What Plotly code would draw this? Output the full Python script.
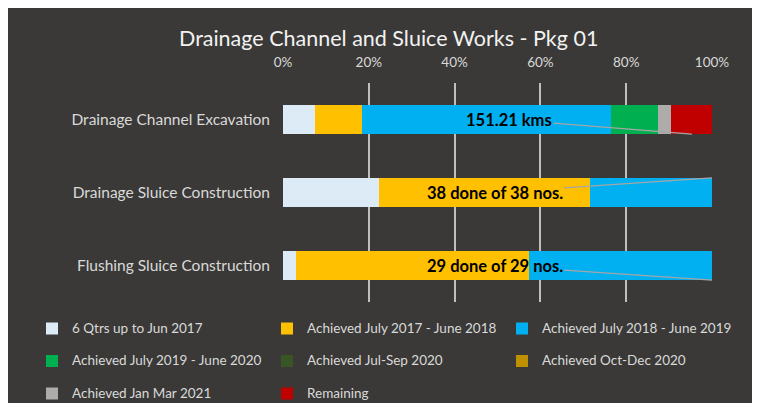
import plotly.graph_objects as go

# ---------------- data ----------------
categories = ["Drainage Channel Excavation", "Drainage Sluice Construction", "Flushing Sluice Construction"]

series_names = [
    "6 Qtrs up to Jun 2017",
    "Achieved July 2017 - June 2018",
    "Achieved July 2018 - June 2019",
    "Achieved July 2019 - June 2020",
    "Achieved Jul-Sep 2020",
    "Achieved Oct-Dec 2020",
    "Achieved Jan Mar 2021",
    "Remaining",
]
qtrs_upto_jun2017 = [7.4, 22.4, 3.1]
jul2017_jun2018 = [10.9, 49.2, 54.2]
jul2018_jun2019 = [58.2, 28.4, 42.7]
jul2019_jun2020 = [10.8, 0.0, 0.0]
jul_sep_2020 = [0.0, 0.0, 0.0]
oct_dec_2020 = [0.0, 0.0, 0.0]
jan_mar_2021 = [3.1, 0.0, 0.0]
remaining = [9.6, 0.0, 0.0]
series_values = [qtrs_upto_jun2017, jul2017_jun2018, jul2018_jun2019, jul2019_jun2020,
                 jul_sep_2020, oct_dec_2020, jan_mar_2021, remaining]

tick_values = [0, 20, 40, 60, 80, 100]
tick_labels = ["0%", "20%", "40%", "60%", "80%", "100%"]

bar_labels = ["151.21 kms", "38 done of 38 nos.", "29 done of 29 nos."]
label_pos = [52.7, 49.3, 49.3]          # label centre along the axis (%)
leader_end_x = [95.3, 100.0, 100.0]     # where each callout line points (%)
leader_end_dy = [0.2, -0.2, 0.2]        # bar edge offset (category units)

# ---------------- style ----------------
colors = ["#DDEBF7", "#FFC000", "#00B0F0", "#00B050", "#375623", "#BF9000", "#AEACAA", "#C00000"]
BG = "#3a3937"
TXT = "#d9d9d9"
FONT = "Lato, Open Sans, sans-serif"

OFF = 8                       # the page's default body margin
W, H = 760 - OFF, 403 - OFF   # figure fills the window after the offset
ML, MR, MT, MB = 275, 48, 75, 101
PW, PH = W - ML - MR, H - MT - MB

def px_x(p):  # page pixel -> paper x
    return (p - OFF - ML) / PW

def px_y(p):  # page pixel -> paper y
    return (H - MB - (p - OFF)) / PH

fig = go.Figure()
for name, vals, col in zip(series_names, series_values, colors):
    fig.add_trace(go.Bar(
        y=categories, x=vals,
        # legend text shown at 13.5px; the smaller legend font only sets the row spacing
        name='<span style="font-size:13.5px">' + name + "</span><br> ",
        orientation="h", marker=dict(color=col, line=dict(width=0)),
        hovertemplate=name + ": %{x}%<extra></extra>",
    ))

annotations = []
for i, (txt, lx, ex, dy) in enumerate(zip(bar_labels, label_pos, leader_end_x, leader_end_dy)):
    annotations.append(dict(
        x=ex, y=i + dy, xref="x", yref="y",
        ax=lx, ay=i, axref="x", ayref="y",
        text="<b>" + txt + "</b>", showarrow=True, arrowhead=0,
        arrowcolor="#a6a6a6", arrowwidth=1.2,
        font=dict(family=FONT, size=16.5, color="#000000"),
    ))

annotations.append(dict(
    text="Drainage Channel and Sluice Works - Pkg 01",
    x=px_x(388), y=px_y(38), xref="paper", yref="paper", showarrow=False,
    font=dict(family=FONT, size=21.5, color="#f2f2f2"),
    xanchor="center", yanchor="middle",
))

fig.update_layout(
    width=W, height=H,
    margin=dict(l=ML, r=MR, t=MT, b=MB, pad=0, autoexpand=False),
    paper_bgcolor=BG, plot_bgcolor=BG,
    barmode="stack", bargap=0.6,
    showlegend=True,
    legend=dict(
        orientation="h", x=px_x(32), xanchor="left", y=px_y(314.6), yanchor="top",
        font=dict(family=FONT, size=11.35, color=TXT),
        entrywidth=190, entrywidthmode="pixels",
        traceorder="normal", valign="top", bgcolor="rgba(0,0,0,0)",
    ),
    xaxis=dict(
        range=[0, 100], side="top", tickvals=tick_values, ticktext=tick_labels,
        showgrid=True, gridcolor="#bfbfbf", gridwidth=1.5, zeroline=False,
        showline=False, ticks="", tickfont=dict(family=FONT, size=13.5, color=TXT),
        ticklabelstandoff=12, fixedrange=True,
    ),
    yaxis=dict(
        type="category", categoryorder="array", categoryarray=categories,
        range=[2.5, -0.5], showgrid=False, zeroline=False, showline=False, ticks="",
        tickfont=dict(family=FONT, size=15.5, color=TXT), ticklabelstandoff=12, fixedrange=True,
    ),
    annotations=annotations,
)

fig.write_html("out.html")
